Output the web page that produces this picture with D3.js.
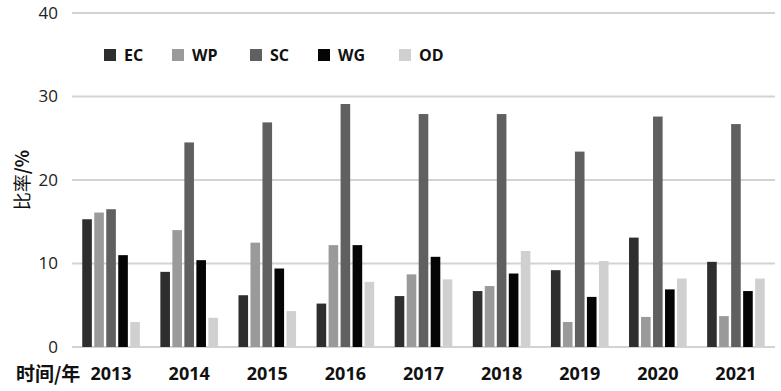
<!DOCTYPE html>
<html><head><meta charset="utf-8">
<script src="https://cdn.jsdelivr.net/npm/d3@7"></script>
<style>body{margin:0;background:#fff}svg{display:block}</style>
</head><body>
<svg id="c" width="781" height="391"></svg>
<script>
const years = ["2013","2014","2015","2016","2017","2018","2019","2020","2021"];
const seriesNames = ["EC","WP","SC","WG","OD"];
const EC = [15.3, 9.0, 6.2, 5.2, 6.1, 6.7, 9.2, 13.1, 10.2];
const WP = [16.1, 14.0, 12.5, 12.2, 8.7, 7.3, 3.0, 3.6, 3.7];
const SC = [16.5, 24.5, 26.9, 29.1, 27.9, 27.9, 23.4, 27.6, 26.7];
const WG = [11.0, 10.4, 9.4, 12.2, 10.8, 8.8, 6.0, 6.9, 6.7];
const OD = [3.0, 3.5, 4.3, 7.8, 8.1, 11.5, 10.3, 8.2, 8.2];
const yTicks = [0, 10, 20, 30, 40];
const colors = ["#2e2e2e", "#9a9a9a", "#606060", "#050505", "#d0d0d0"];
const seriesValues = [EC, WP, SC, WG, OD];

const svg = d3.select("#c");
const mLeft = 72, mRight = 775, mTop = 13, mBottom = 347;
const x0 = d3.scaleBand().domain(years).range([mLeft, mRight]).padding(0);
const groupW = 60;
const x1 = d3.scaleBand().domain(seriesNames).range([0, groupW]).paddingInner(0.2).paddingOuter(0.1);
const y = d3.scaleLinear().domain([0, 40]).range([mBottom, mTop]);
const color = d3.scaleOrdinal().domain(seriesNames).range(colors);

// gridlines
svg.append("g").selectAll("line").data(yTicks).join("line")
  .attr("x1", mLeft).attr("x2", mRight)
  .attr("y1", d => y(d)).attr("y2", d => y(d))
  .attr("stroke", "#d3d3d3").attr("stroke-width", 2);

// y axis labels
const yAxis = d3.axisLeft(y).tickValues(yTicks).tickSize(0).tickPadding(0);
const ya = svg.append("g").attr("transform", `translate(58,0)`).call(yAxis);
ya.select(".domain").remove();
ya.selectAll("text").attr("font-family", "'Open Sans', sans-serif").attr("font-size", 17).attr("fill", "#222");

// bars
const g = svg.append("g");
years.forEach((yr, i) => {
  const gx = x0(yr) + (x0.bandwidth() - groupW) / 2;
  g.append("g").attr("transform", `translate(${gx},0)`)
    .selectAll("rect").data(seriesNames.map((s, k) => ({s, v: seriesValues[k][i]})))
    .join("rect")
    .attr("x", d => x1(d.s)).attr("width", x1.bandwidth())
    .attr("y", d => y(d.v)).attr("height", d => mBottom - y(d.v))
    .attr("fill", d => color(d.s));
});

// x axis labels
const xAxis = d3.axisBottom(x0).tickSize(0).tickPadding(0);
const xa = svg.append("g").attr("transform", `translate(0,${mBottom + 20})`).call(xAxis);
xa.select(".domain").remove();
xa.selectAll("text").attr("font-family", "'Open Sans', sans-serif").attr("font-weight", "bold")
  .attr("font-size", 18).attr("fill", "#111");

svg.append("text").attr("x", 16).attr("y", 381)
  .attr("font-family", "'Noto Sans CJK SC', sans-serif").attr("font-weight", "bold")
  .attr("font-size", 19).attr("fill", "#111").text("时间/年");

// y title
const yt = svg.append("text").attr("transform", "translate(29,180) rotate(-90)")
  .attr("text-anchor", "middle")
  .attr("font-family", "'Noto Sans CJK SC', sans-serif").attr("font-size", 18).attr("fill", "#111");
yt.append("tspan").text("比率");
yt.append("tspan").attr("font-weight", "bold").text("/%");

// legend
const legX = [104, 172, 250, 318, 399];
const leg = svg.append("g").selectAll("g").data(seriesNames).join("g")
  .attr("transform", (d, i) => `translate(${legX[i]},49)`);
leg.append("rect").attr("width", 12).attr("height", 12).attr("fill", d => color(d));
leg.append("text").attr("x", 20).attr("y", 12)
  .attr("font-family", "'Open Sans', sans-serif").attr("font-weight", "bold")
  .attr("font-size", 16).attr("fill", "#111").text(d => d);
</script>
</body></html>
